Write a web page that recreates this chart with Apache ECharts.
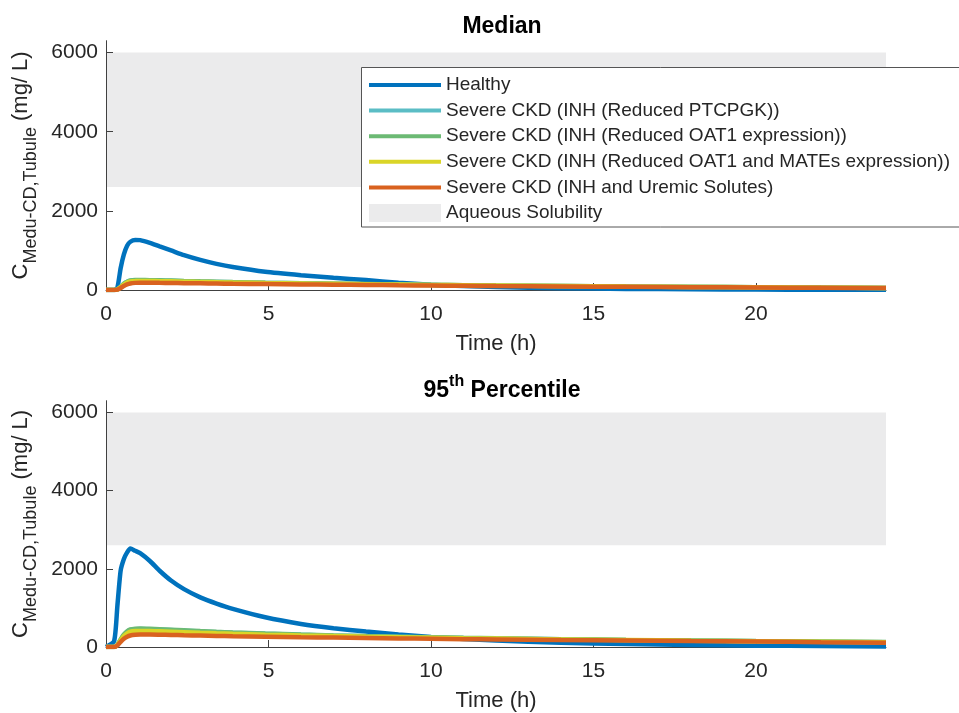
<!DOCTYPE html>
<html>
<head>
<meta charset="utf-8">
<script src="https://cdn.jsdelivr.net/npm/echarts@6/dist/echarts.min.js"></script>
<style>
html, body { margin: 0; background: #fff; }
#chart { width: 959px; height: 713px; }
</style>
</head>
<body>
<div id="chart"></div>
<script>
// time points (h)
const time = [0, 0.25, 0.35, 0.45, 0.55, 0.65, 0.75, 0.9, 1.05, 1.35, 1.65, 2, 2.4, 2.9, 3.4, 3.9, 4.9, 6, 7, 8, 9, 10, 11, 12, 14, 16, 18, 20, 22, 24]

// Median
const medHealthy = [0, 0, 60, 550, 900, 1120, 1220, 1265, 1260, 1190, 1100, 1000, 880, 760, 660, 580, 460, 375, 310, 250, 185, 135, 100, 75, 45, 28, 18, 11, 7, 4]
const medTeal    = [0, 0, 13, 75, 155, 205, 232, 245, 247, 244, 239, 232, 223, 213, 204, 195, 181, 168, 157, 147, 138, 129, 121, 113, 100, 88, 78, 69, 60, 52]
const medGreen   = [0, 0, 14, 80, 160, 210, 238, 250, 252, 249, 244, 237, 228, 218, 209, 200, 185, 171, 160, 150, 140, 131, 123, 115, 102, 90, 79, 70, 61, 53]
const medYellow  = [0, 0, 12, 70, 140, 190, 215, 228, 230, 228, 224, 218, 211, 203, 196, 189, 177, 165, 155, 146, 137, 128, 120, 113, 100, 88, 78, 69, 60, 52]
const medOrange  = [0, 0, 10, 50, 100, 140, 165, 180, 185, 185, 182, 178, 173, 168, 163, 158, 150, 142, 135, 128, 120, 113, 106, 100, 90, 80, 71, 63, 55, 48]

// 95th percentile
const p95Healthy = [0, 150, 1050, 1950, 2250, 2420, 2520, 2460, 2400, 2200, 1950, 1700, 1480, 1270, 1110, 975, 760, 590, 480, 395, 320, 255, 205, 165, 110, 75, 50, 35, 25, 15]
const p95Teal    = [0, 0, 52, 185, 305, 385, 435, 456, 460, 455, 445, 432, 417, 398, 380, 364, 336, 311, 292, 275, 259, 245, 231, 219, 198, 180, 164, 150, 137, 124]
const p95Green   = [0, 0, 55, 195, 320, 400, 448, 468, 472, 466, 456, 443, 427, 407, 389, 372, 343, 317, 297, 279, 263, 248, 234, 222, 200, 182, 166, 151, 138, 125]
const p95Yellow  = [0, 0, 50, 170, 280, 350, 390, 408, 412, 408, 400, 390, 378, 363, 350, 338, 316, 296, 280, 265, 251, 238, 226, 215, 195, 178, 163, 149, 136, 124]
const p95Orange  = [0, 0, 40, 130, 210, 265, 295, 312, 318, 318, 314, 308, 300, 292, 284, 276, 263, 250, 240, 230, 220, 210, 201, 193, 178, 165, 152, 141, 124, 108]

// aqueous solubility band
const solubility = [2600, 6000]
const xTicks = [0, 5, 10, 15, 20]
const yTicks = [0, 2000, 4000, 6000]

const names = [
  'Healthy',
  'Severe CKD (INH (Reduced PTCPGK))',
  'Severe CKD (INH (Reduced OAT1 expression))',
  'Severe CKD (INH (Reduced OAT1 and MATEs expression))',
  'Severe CKD (INH and Uremic Solutes)',
  'Aqueous Solubility'
]
const colors = ['#0072BD', '#5BBDC5', '#6CBA74', '#DAD527', '#D9621F']
const bandColor = '#EBEBEC'
const font = '"Liberation Sans", Arial, sans-serif'
const axisColor = '#404040'
const lineIcon = 'path://M0,0 L0,0 M0,7 L72,7 L72,11 L0,11 Z M0,18 L0,18'

const pair = (ys) => time.map((t, i) => [t, ys[i]])

function xAxis(gridIndex) {
  return {
    type: 'value', gridIndex, min: 0, max: 24, z: 3,
    name: 'Time (h)', nameLocation: 'middle', nameGap: 43,
    nameTextStyle: { fontFamily: font, fontSize: 22, color: '#262626' },
    axisLine: { onZero: false, lineStyle: { color: axisColor, width: 1 } },
    axisTick: { inside: true, length: 7, customValues: xTicks, lineStyle: { color: axisColor } },
    axisLabel: { customValues: xTicks, margin: 14, fontFamily: font, fontSize: 21, color: '#262626', formatter: v => String(v) },
    splitLine: { show: false }
  }
}

function yAxis(gridIndex) {
  return {
    type: 'value', gridIndex, min: 0, max: 6300, z: 3,
    name: '{m|C}{s|Medu-CD,Tubule}{m| (mg/ L)}', nameLocation: 'middle', nameRotate: 90, nameGap: 54,
    nameTextStyle: {
      fontFamily: font, color: '#262626',
      rich: {
        m: { fontFamily: font, fontSize: 22, lineHeight: 30, verticalAlign: 'top', color: '#262626' },
        s: { fontFamily: font, fontSize: 18, lineHeight: 18, verticalAlign: 'bottom', color: '#262626' }
      }
    },
    axisLine: { show: true, lineStyle: { color: axisColor, width: 1 } },
    axisTick: { show: true, inside: true, length: 7, customValues: yTicks, lineStyle: { color: axisColor } },
    axisLabel: { customValues: yTicks, margin: 8, fontFamily: font, fontSize: 21, color: '#262626', formatter: v => String(v) },
    splitLine: { show: false }
  }
}

function panel(idx, data) {
  const list = [{
    name: names[5], type: 'line', xAxisIndex: idx, yAxisIndex: idx, data: [],
    itemStyle: { color: bandColor }, silent: true, z: 0,
    markArea: {
      silent: true, z: 0,
      itemStyle: { color: bandColor },
      data: [[{ xAxis: 0, yAxis: solubility[0] }, { xAxis: 24, yAxis: solubility[1] }]]
    }
  }]
  data.forEach((ys, i) => {
    list.push({
      name: names[i], type: 'line', xAxisIndex: idx, yAxisIndex: idx,
      data: pair(ys), symbol: 'none', smooth: 0.2, z: 4,
      lineStyle: { color: colors[i], width: 4.5 },
      itemStyle: { color: colors[i] }
    })
  })
  return list
}

var chart = echarts.init(document.getElementById('chart'))

let option = {
  animation: false,
  backgroundColor: '#fff',
  title: [
    {
      text: 'Median', left: 497, top: 10, textAlign: 'center',
      textStyle: { fontFamily: font, fontSize: 23, fontWeight: 'bold', color: '#000' }
    },
    {
      text: '{n|95}{s|th}{n| Percentile}', left: 497, top: 369, textAlign: 'center',
      textStyle: {
        rich: {
          n: { fontFamily: font, fontSize: 23, fontWeight: 'bold', lineHeight: 28, verticalAlign: 'bottom', color: '#000' },
          s: { fontFamily: font, fontSize: 16, fontWeight: 'bold', lineHeight: 16, verticalAlign: 'top', color: '#000' }
        }
      }
    }
  ],
  grid: [
    { left: 106, width: 780, top: 40.7, height: 249.3 },
    { left: 106, width: 780, top: 400.7, height: 249.3 }
  ],
  xAxis: [xAxis(0), xAxis(1)],
  yAxis: [yAxis(0), yAxis(1)],
  // legend frame runs past the right edge of the figure
  graphic: [{
    type: 'rect', z: 8, silent: true,
    shape: { x: 361.5, y: 67.5, width: 700, height: 159.5 },
    style: { fill: '#fff', stroke: '#555', lineWidth: 1 }
  }],
  legend: {
    orient: 'vertical', left: 362, top: 67, z: 10,
    padding: [8, 10, 2, 7],
    itemWidth: 72, itemHeight: 18, itemGap: 5.6,
    textStyle: { fontFamily: font, fontSize: 19, color: '#262626', lineHeight: 20 },
    data: [
      { name: names[0], icon: lineIcon }, { name: names[1], icon: lineIcon }, { name: names[2], icon: lineIcon },
      { name: names[3], icon: lineIcon }, { name: names[4], icon: lineIcon },
      { name: names[5], icon: 'rect', itemStyle: { color: bandColor } }
    ]
  },
  series: [
    ...panel(0, [medHealthy, medTeal, medGreen, medYellow, medOrange]),
    ...panel(1, [p95Healthy, p95Teal, p95Green, p95Yellow, p95Orange])
  ]
}
chart.setOption(option)
</script>
</body>
</html>
